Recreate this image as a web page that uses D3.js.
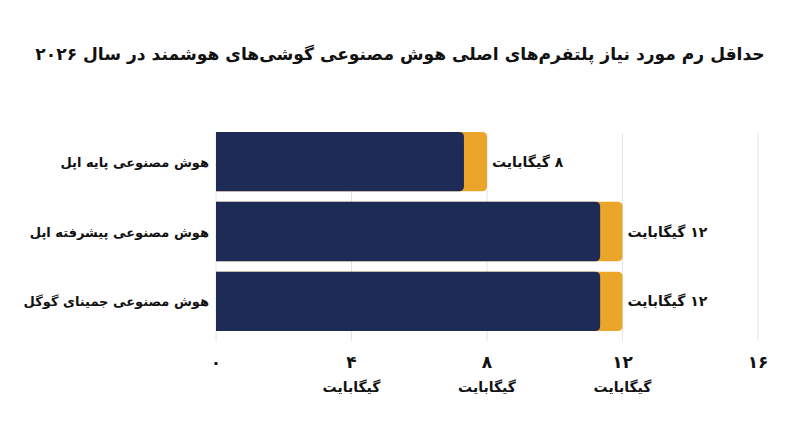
<!DOCTYPE html>
<html lang="fa">
<head>
<meta charset="utf-8">
<script src="https://cdn.jsdelivr.net/npm/d3@7"></script>
<style>
  body { margin: 0; background: #fff; }
  text { font-family: "DejaVu Sans", sans-serif; font-weight: bold; fill: #111; }
</style>
</head>
<body>
<script>
// chart data
const categories = ["هوش مصنوعی پایه اپل", "هوش مصنوعی پیشرفته اپل", "هوش مصنوعی جمینای گوگل"];
const ramValues = [8, 12, 12];
const innerValues = [7.32, 11.34, 11.34];
const valueLabels = ["۸ گیگابایت", "۱۲ گیگابایت", "۱۲ گیگابایت"];
const tickValues = [0, 4, 8, 12, 16];
const tickLabels = ["۰", "۴", "۸", "۱۲", "۱۶"];
const tickUnits = ["", "گیگابایت", "گیگابایت", "گیگابایت", ""];
const title = "حداقل رم مورد نیاز پلتفرم‌های اصلی هوش مصنوعی گوشی‌های هوشمند در سال ۲۰۲۶";

const width = 800, height = 447;

const svg = d3.select("body").append("svg")
    .attr("width", width)
    .attr("height", height);

const x = d3.scaleLinear().domain([0, 16]).range([216, 758]);
const y = d3.scaleBand().domain(categories).range([132, 331]).paddingInner(0.15).paddingOuter(0);

const titleText = svg.append("text")
    .attr("x", width / 2)
    .attr("y", 60)
    .attr("text-anchor", "middle")
    .attr("direction", "rtl")
    .style("font-size", "20px")
    .text(title);

// shrink title to fit the same width as the original
const tw = titleText.node().getComputedTextLength();
if (tw > 730) titleText.style("font-size", (20 * 730 / tw) + "px");

// grid
svg.selectAll(".grid")
    .data(tickValues)
    .enter().append("line")
    .attr("class", "grid")
    .attr("x1", d => x(d))
    .attr("x2", d => x(d))
    .attr("y1", 133)
    .attr("y2", 341)
    .style("stroke", "#e4e4e4")
    .style("stroke-width", 1);

// rounded right end, square left end
function barPath(x0, x1, y0, h, r) {
    return `M${x0},${y0}H${x1 - r}Q${x1},${y0} ${x1},${y0 + r}V${y0 + h - r}Q${x1},${y0 + h} ${x1 - r},${y0 + h}H${x0}Z`;
}

svg.selectAll(".bar")
    .data(categories)
    .enter().append("path")
    .attr("class", "bar")
    .attr("d", (d, i) => barPath(x(0), x(ramValues[i]), y(d), y.bandwidth(), 5))
    .style("fill", "#eba52a");

svg.selectAll(".inner")
    .data(categories)
    .enter().append("path")
    .attr("class", "inner")
    .attr("d", (d, i) => barPath(x(0), x(innerValues[i]), y(d), y.bandwidth(), 5))
    .style("fill", "#1f2b57");

// in rtl, "start" is the right edge
svg.selectAll(".cat")
    .data(categories)
    .enter().append("text")
    .attr("class", "cat")
    .attr("x", 209)
    .attr("y", d => y(d) + y.bandwidth() / 2 + 5)
    .attr("text-anchor", "start")
    .attr("direction", "rtl")
    .style("font-size", "13px")
    .text(d => d);

svg.selectAll(".val")
    .data(categories)
    .enter().append("text")
    .attr("class", "val")
    .attr("x", (d, i) => x(ramValues[i]) + 5)
    .attr("y", d => y(d) + y.bandwidth() / 2 + 5)
    .attr("text-anchor", "end")
    .attr("direction", "rtl")
    .style("font-size", "14px")
    .text((d, i) => valueLabels[i]);

const ticks = svg.selectAll(".tick")
    .data(tickValues)
    .enter().append("g")
    .attr("class", "tick")
    .attr("transform", d => `translate(${x(d)},0)`);

ticks.append("text")
    .attr("y", 368)
    .attr("text-anchor", "middle")
    .style("font-size", "17px")
    .text((d, i) => tickLabels[i]);

ticks.append("text")
    .attr("y", 392)
    .attr("text-anchor", "middle")
    .attr("direction", "rtl")
    .style("font-size", "14px")
    .text((d, i) => tickUnits[i]);
</script>
</body>
</html>
